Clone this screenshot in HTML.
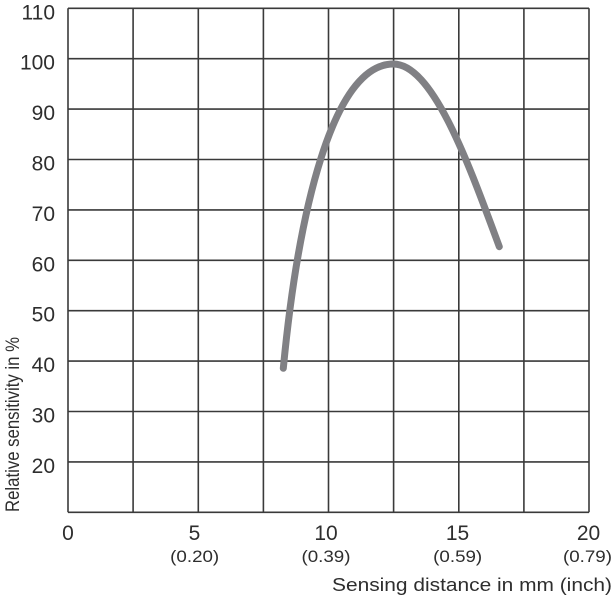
<!DOCTYPE html>
<html>
<head>
<meta charset="utf-8">
<style>
  html,body{margin:0;padding:0;background:#fff;}
  svg{display:block;}
  text{font-family:"Liberation Sans", sans-serif; fill:#2e2e2e;}
</style>
</head>
<body>
<svg width="614" height="600" viewBox="0 0 614 600" xmlns="http://www.w3.org/2000/svg">
  <rect x="0" y="0" width="614" height="600" fill="#fff"/>
  <g stroke="#3a3a3a" stroke-width="1.6" fill="none">
    <line x1="68" y1="8.3" x2="68" y2="512.3"/>
    <line x1="133.1" y1="8.3" x2="133.1" y2="512.3"/>
    <line x1="198.3" y1="8.3" x2="198.3" y2="512.3"/>
    <line x1="263.4" y1="8.3" x2="263.4" y2="512.3"/>
    <line x1="328.5" y1="8.3" x2="328.5" y2="512.3"/>
    <line x1="393.6" y1="8.3" x2="393.6" y2="512.3"/>
    <line x1="458.8" y1="8.3" x2="458.8" y2="512.3"/>
    <line x1="523.9" y1="8.3" x2="523.9" y2="512.3"/>
    <line x1="589" y1="8.3" x2="589" y2="512.3"/>
    <line x1="68" y1="8.3" x2="589" y2="8.3"/>
    <line x1="68" y1="58.7" x2="589" y2="58.7"/>
    <line x1="68" y1="109.1" x2="589" y2="109.1"/>
    <line x1="68" y1="159.5" x2="589" y2="159.5"/>
    <line x1="68" y1="209.9" x2="589" y2="209.9"/>
    <line x1="68" y1="260.3" x2="589" y2="260.3"/>
    <line x1="68" y1="310.7" x2="589" y2="310.7"/>
    <line x1="68" y1="361.1" x2="589" y2="361.1"/>
    <line x1="68" y1="411.5" x2="589" y2="411.5"/>
    <line x1="68" y1="461.9" x2="589" y2="461.9"/>
    <line x1="68" y1="512.3" x2="589" y2="512.3"/>
  </g>

  <!-- curve -->
  <path d="M283.3,368.3 C298,215 332,64 393.3,64 C433.3,64 469.3,165.7 499.3,246.7"
        fill="none" stroke="#808084" stroke-width="7" stroke-linecap="round" stroke-linejoin="round"/>

  <!-- y tick labels -->
  <g font-size="21" text-anchor="end">
    <text x="55" y="19.3">110</text>
    <text x="55" y="69.7">100</text>
    <text x="55" y="120.1">90</text>
    <text x="55" y="170.5">80</text>
    <text x="55" y="220.9">70</text>
    <text x="55" y="271.3">60</text>
    <text x="55" y="321.7">50</text>
    <text x="55" y="372.1">40</text>
    <text x="55" y="422.5">30</text>
    <text x="55" y="472.9">20</text>
  </g>

  <!-- x tick labels -->
  <g font-size="21" text-anchor="middle">
    <text x="68" y="540">0</text>
    <text x="194.5" y="540">5</text>
    <text x="326" y="540">10</text>
    <text x="457.5" y="540">15</text>
    <text x="588.5" y="540">20</text>
  </g>
  <g font-size="17" text-anchor="middle">
    <text x="194.7" y="562" textLength="49" lengthAdjust="spacingAndGlyphs">(0.20)</text>
    <text x="326" y="562" textLength="49" lengthAdjust="spacingAndGlyphs">(0.39)</text>
    <text x="457.7" y="562" textLength="49" lengthAdjust="spacingAndGlyphs">(0.59)</text>
    <text x="587.5" y="562" textLength="49" lengthAdjust="spacingAndGlyphs">(0.79)</text>
  </g>

  <!-- axis titles -->
  <text x="332" y="591" font-size="18" textLength="280" lengthAdjust="spacingAndGlyphs">Sensing distance in mm (inch)</text>
  <text transform="translate(19,512) rotate(-90)" x="0" y="0" font-size="19" textLength="175" lengthAdjust="spacingAndGlyphs">Relative sensitivity in %</text>
</svg>
</body>
</html>
